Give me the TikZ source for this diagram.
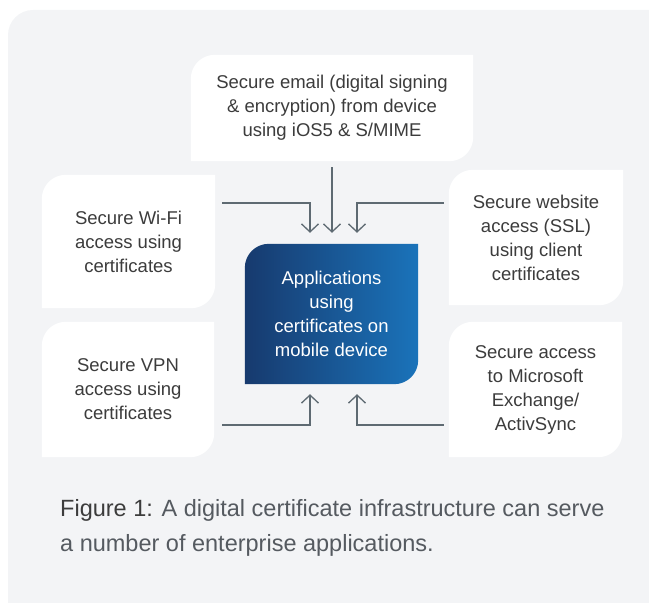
\documentclass[tikz,border=0pt]{standalone}
\usepackage{fontspec}
\setmainfont{Liberation Sans}
\usetikzlibrary{arrows.meta,backgrounds,calc}

\definecolor{panel}{HTML}{F3F4F6}
\definecolor{linegray}{HTML}{5E6A72}
\definecolor{txtgray}{HTML}{3C3C3C}
\definecolor{capgray}{HTML}{555A60}
\definecolor{appdark}{HTML}{173A6E}
\definecolor{applight}{HTML}{1A73BA}

\newlength{\leafr}
\setlength{\leafr}{24pt}
% box with rounded top-left and bottom-right corners
\newcommand{\leafbox}[2]{%
  \path[#2] (#1.south west) -- ([yshift=-\leafr]#1.north west)
    arc[start angle=180,end angle=90,radius=\leafr] -- (#1.north east)
    -- ([yshift=\leafr]#1.south east)
    arc[start angle=0,end angle=-90,radius=\leafr] -- cycle;}

\tikzset{
  box/.style={inner sep=0pt, align=center, text=txtgray,
    font=\fontsize{18.5}{24}\selectfont},
  flow/.style={draw=linegray, line width=1.3pt,
    -{Straight Barb[length=8pt,width=17pt]}},
}

\begin{document}
\begin{tikzpicture}[x=1pt,y=1pt]
            \useasboundingbox (0,0) rectangle (649,603);

            \node[box, minimum width=282pt, minimum height=106pt] at (332,495) (email) {Secure email (digital signing\\\& encryption) from device\\using iOS5 \& S/MIME};

            \node[box, minimum width=173pt, minimum height=133pt] at (128.5,361.5) (wifi) {Secure Wi-Fi\\access using\\certificates};
            \node[box, minimum width=174pt, minimum height=135pt] at (536,365.5) (web) {Secure website\\access (SSL)\\using client\\certificates};

            \node[box, text=white, minimum width=173pt, minimum height=140pt] at (331.5,289) (app) {Applications\\using\\certificates on\\mobile device};

            \node[box, minimum width=172pt, minimum height=135pt] at (128,213.5) (vpn) {Secure VPN\\access using\\certificates};
            \node[box, minimum width=173pt, minimum height=135pt] at (535.5,213.5) (exch) {Secure access\\to Microsoft\\Exchange/\\ActivSync};

            \node[anchor=base west, align=left, inner sep=0pt, text=capgray,
              font=\fontsize{23.5}{35}\selectfont] at (60,51) (caption)
              {{\color{txtgray}Figure 1:} A digital certificate infrastructure can serve\\a number of enterprise applications.};

            \begin{scope}[on background layer]
              \fill[panel, rounded corners=25pt] (8,593) rectangle (680,-30);
              \leafbox{email}{fill=white}
              \leafbox{wifi}{fill=white}
              \leafbox{web}{fill=white}
              \leafbox{vpn}{fill=white}
              \leafbox{exch}{fill=white}
              \leafbox{app}{left color=appdark, right color=applight}
            \end{scope}

            \draw[flow, shorten <=6pt, shorten >=11pt] (email.south) -- (email.south |- app.north);
            \draw[flow, shorten <=7pt, shorten >=11pt] ([yshift=38.5pt]wifi.east) -| ([xshift=-21.5pt]app.north);
            \draw[flow, shorten <=5pt, shorten >=11pt] ([yshift=34.5pt]web.west) -| ([xshift=25.5pt]app.north);
            \draw[flow, shorten <=8pt, shorten >=10pt] ([yshift=-35.5pt]vpn.east) -| ([xshift=-21.5pt]app.south);
            \draw[flow, shorten <=5pt, shorten >=10pt] ([yshift=-35.5pt]exch.west) -| ([xshift=25.5pt]app.south);
        \end{tikzpicture}
\end{document}
